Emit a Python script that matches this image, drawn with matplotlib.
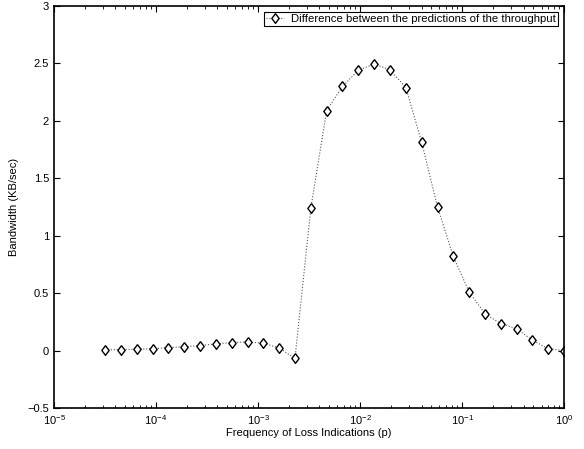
import matplotlib
matplotlib.use('Agg')
import matplotlib.pyplot as plt
import numpy as np

plt.rcParams['font.family'] = ['Liberation Sans', 'DejaVu Sans']
plt.rcParams['mathtext.fontset'] = 'custom'
plt.rcParams['mathtext.rm'] = 'Liberation Sans'
plt.rcParams['mathtext.it'] = 'Liberation Sans'

# frequency of loss indications p
p = [3.16e-5, 4.52e-5, 6.46e-5, 9.24e-5, 1.32e-4, 1.89e-4, 2.70e-4, 3.86e-4,
     5.51e-4, 7.88e-4, 1.13e-3, 1.61e-3, 2.30e-3, 3.29e-3, 4.70e-3, 6.72e-3,
     9.61e-3, 1.37e-2, 1.96e-2, 2.81e-2, 4.01e-2, 5.74e-2, 8.20e-2, 0.117,
     0.168, 0.239, 0.342, 0.489, 0.699, 1.0]
# bandwidth difference (KB/sec)
diff = [0.005, 0.009, 0.012, 0.016, 0.026, 0.033, 0.044, 0.058, 0.070, 0.075,
        0.064, 0.023, -0.068, 1.24, 2.09, 2.30, 2.44, 2.495, 2.445, 2.29,
        1.815, 1.25, 0.82, 0.51, 0.32, 0.235, 0.19, 0.09, 0.017, 0.0]

# matlab-like diamond, a bit taller than wide
diamond = [(0, 1), (0.75, 0), (0, -1), (-0.75, 0), (0, 1)]

fig = plt.figure(figsize=(5.84, 4.49), dpi=100)
ax = fig.add_axes([0.0925, 0.0913, 0.8735, 0.8953])

ax.semilogx(p, diff, linestyle=':', color='#555555', linewidth=0.8,
            marker=diamond, markersize=7, markerfacecolor='white',
            markeredgecolor='black', markeredgewidth=1.0,
            label='Difference between the predictions of the throughput')

ax.set_xlim(1e-5, 1)
ax.set_ylim(-0.5, 3)
ax.set_yticks(np.arange(-0.5, 3.01, 0.5))
ax.set_yticklabels(['\u22120.5', '0', '0.5', '1', '1.5', '2', '2.5', '3'])
ax.tick_params(which='both', direction='in', top=True, right=True, labelsize=8)
ax.tick_params(which='major', length=4)
ax.tick_params(which='minor', length=2)
for s in ax.spines.values():
    s.set_linewidth(1.2)

ax.set_xlabel('Frequency of Loss Indications (p)', fontsize=8, labelpad=1)
ax.set_ylabel('Bandwidth (KB/sec)', fontsize=8, labelpad=6)

leg = ax.legend(loc='upper right', fontsize=8.2, fancybox=False, framealpha=1,
                edgecolor='black', borderpad=0.2, handlelength=1.6,
                handletextpad=0.6, borderaxespad=0.5)
leg.get_frame().set_linewidth(0.8)

plt.savefig('out.png', dpi=100)
